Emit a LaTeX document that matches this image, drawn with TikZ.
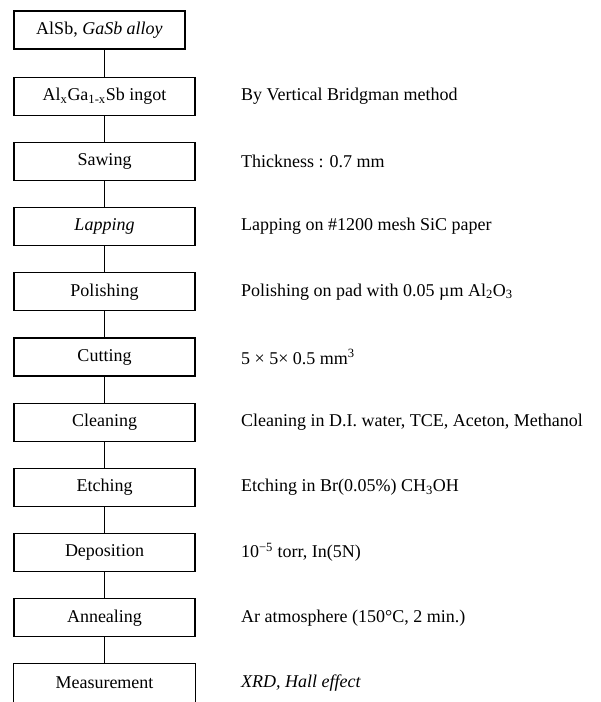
\documentclass[tikz,border=0pt]{standalone}
\usepackage{fontspec}
\setmainfont{Liberation Serif}
\usepackage{tikz}
\usetikzlibrary{positioning}

\begin{document}
\begin{tikzpicture}[every node/.style={align=center, font=\fontsize{18}{21}\selectfont}, node distance=26pt]
\tikzset{
  process/.style={draw, line width=1.2pt, minimum width=181pt, minimum height=38pt, inner sep=0pt},
  openbox/.style={process, draw=none},
  note/.style={right=42pt of #1, align=left},
  link/.style={line width=1.2pt}
}
\useasboundingbox (0,0) rectangle (601pt,-702pt);
\node[process, minimum width=171pt] (alloy) at (99.5pt,-30pt) {AlSb, \textit{GaSb alloy}};
\node[process, below=27pt of alloy, xshift=5pt] (ingot) {Al\textsubscript{x}Ga\textsubscript{1-x}Sb ingot};
\node[process, below=of ingot] (sawing) {Sawing};
\node[process, below=of sawing] (lapping) {\textit{Lapping}};
\node[process, below=of lapping] (polishing) {Polishing};
\node[process, below=of polishing] (cutting) {Cutting};
\node[process, below=of cutting] (cleaning) {Cleaning};
\node[process, below=of cleaning] (etching) {Etching};
\node[process, below=of etching] (deposition) {Deposition};
\node[process, below=of deposition] (annealing) {Annealing};
\node[openbox, below=of annealing] (measurement) {Measurement};
% last box runs off the bottom edge
\draw[link] ([yshift=-12pt]measurement.south west) |- (measurement.north east) -- ([yshift=-12pt]measurement.south east);

% notes on the right
\node[note=ingot] (ingotnote) {By Vertical Bridgman method};
\node[note=sawing] (sawingnote) {Thickness : 0.7 mm};
\node[note=lapping] (lappingnote) {Lapping on \#1200 mesh SiC paper};
\node[note=polishing] (polishingnote) {Polishing on pad with 0.05 µm Al\textsubscript{2}O\textsubscript{3}};
\node[note=cutting] (cuttingnote) {5 × 5× 0.5 mm\textsuperscript{3}};
\node[note=cleaning] (cleaningnote) {Cleaning in D.I. water, TCE, Aceton, Methanol};
\node[note=etching] (etchingnote) {Etching in Br(0.05\%) CH\textsubscript{3}OH};
\node[note=deposition] (depositionnote) {10\textsuperscript{−5} torr, In(5N)};
\node[note=annealing] (annealingnote) {Ar atmosphere (150°C, 2 min.)};
\node[note=measurement] (measurementnote) {\textit{XRD, Hall effect}};

\draw[link] (alloy.south -| ingot) -- (ingot.north);
\draw[link] (ingot.south) -- (sawing.north);
\draw[link] (sawing.south) -- (lapping.north);
\draw[link] (lapping.south) -- (polishing.north);
\draw[link] (polishing.south) -- (cutting.north);
\draw[link] (cutting.south) -- (cleaning.north);
\draw[link] (cleaning.south) -- (etching.north);
\draw[link] (etching.south) -- (deposition.north);
\draw[link] (deposition.south) -- (annealing.north);
\draw[link] (annealing.south) -- (measurement.north);
\end{tikzpicture}
\end{document}
